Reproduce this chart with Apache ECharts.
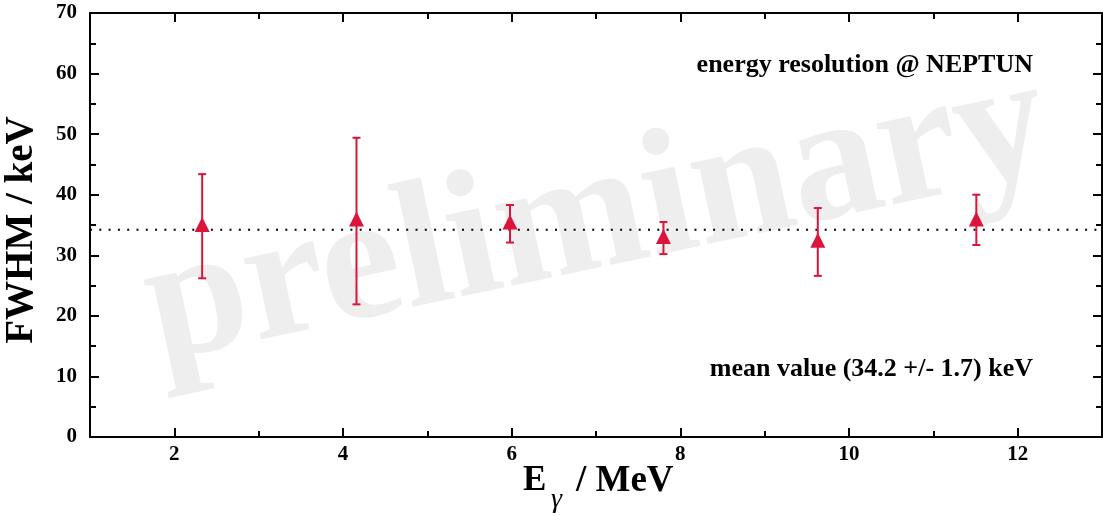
<!DOCTYPE html>
<html>
<head>
<meta charset="utf-8">
<script src="https://cdn.jsdelivr.net/npm/echarts@6/dist/echarts.min.js"></script>
<style>html,body{margin:0;padding:0;background:#fff}#c{width:1103px;height:516px}</style>
</head>
<body>
<div id="c"></div>
<script>
// ---- data ----
const energies = [2.33, 4.16, 5.98, 7.80, 9.63, 11.51];
const fwhm     = [35.1, 36.0, 35.5, 33.1, 32.5, 36.0];
const errLow   = [26.2, 21.9, 32.1, 30.2, 26.6, 31.7];
const errHigh  = [43.4, 49.4, 38.3, 35.5, 37.8, 40.0];
const meanValue = 34.2;
const xTickLabels = [2, 4, 6, 8, 10, 12];
const yTickLabels = [0, 10, 20, 30, 40, 50, 60, 70];

const RED = '#dc143c';
const SERIF = '"Liberation Serif","DejaVu Serif",serif';

const chart = echarts.init(document.getElementById('c'), null, {renderer: 'canvas'});

const pts = energies.map((e, i) => [e, fwhm[i]]);
const errs = energies.map((e, i) => [e, errLow[i], errHigh[i]]);

function xAxisDef(pos, labels) {
  return {
    type: 'value', position: pos, min: 1, max: 13, interval: 2,
    axisLine: {show: true, onZero: false, lineStyle: {color: '#000', width: 2}},
    axisTick: {show: true, inside: true, length: 6, lineStyle: {color: '#000', width: 2}},
    minorTick: {show: true, splitNumber: 2, length: 9, lineStyle: {color: '#000', width: 2}},
    splitLine: {show: false}, minorSplitLine: {show: false},
    axisLabel: {show: labels, customValues: xTickLabels, margin: 7, color: '#000',
      fontFamily: SERIF, fontWeight: 'bold', fontSize: 21}
  };
}
function yAxisDef(pos, labels) {
  return {
    type: 'value', position: pos, min: 0, max: 70, interval: 10,
    axisLine: {show: true, onZero: false, lineStyle: {color: '#000', width: 2}},
    axisTick: {show: true, inside: true, length: 9, lineStyle: {color: '#000', width: 2}},
    minorTick: {show: true, splitNumber: 2, length: 6, lineStyle: {color: '#000', width: 2}},
    splitLine: {show: false}, minorSplitLine: {show: false},
    axisLabel: {show: labels, customValues: yTickLabels, margin: 13, color: '#000',
      fontFamily: SERIF, fontWeight: 'bold', fontSize: 21}
  };
}

const option = {
  animation: false,
  backgroundColor: '#fff',
  grid: {left: 90, top: 13, right: 1, bottom: 79, containLabel: false},
  xAxis: [xAxisDef('bottom', true), xAxisDef('top', false)],
  yAxis: [yAxisDef('left', true), yAxisDef('right', false)],
  graphic: [
    {type: 'text', z: -10, x: 597, y: 220, rotation: 0.21,
      style: {text: 'preliminary', fill: '#eeeeee', font: 'bold 180px ' + SERIF,
        align: 'center', verticalAlign: 'middle'}},
    {type: 'text', z: 50, x: 1033, y: 65,
      style: {text: 'energy resolution @ NEPTUN', fill: '#000', font: 'bold 26px ' + SERIF,
        align: 'right', verticalAlign: 'middle'}},
    {type: 'text', z: 50, x: 1033, y: 369,
      style: {text: 'mean value (34.2 +/- 1.7) keV', fill: '#000', font: 'bold 26px ' + SERIF,
        align: 'right', verticalAlign: 'middle'}},
    {type: 'text', z: 50, x: 22, y: 230, rotation: Math.PI / 2,
      style: {text: 'FWHM / keV', fill: '#000', font: 'bold 39px ' + SERIF,
        align: 'center', verticalAlign: 'middle'}},
    {type: 'text', z: 50, x: 523, y: 481,
      style: {text: 'E', fill: '#000', font: 'bold 35px ' + SERIF, align: 'left', verticalAlign: 'middle'}},
    {type: 'text', z: 50, x: 551, y: 500,
      style: {text: 'γ', fill: '#000', font: 'italic 28px ' + SERIF, align: 'left', verticalAlign: 'middle'}},
    {type: 'text', z: 50, x: 576, y: 481,
      style: {text: '/ MeV', fill: '#000', font: 'bold 37px ' + SERIF, align: 'left', verticalAlign: 'middle'}}
  ],
  series: [
    {
      type: 'line', xAxisIndex: 0, yAxisIndex: 0, z: 3,
      data: [[1, meanValue], [13, meanValue]],
      symbol: 'none', silent: true,
      lineStyle: {color: '#000', width: 2, type: [2, 7.3]}
    },
    {
      type: 'custom', xAxisIndex: 0, yAxisIndex: 0, z: 4,
      data: errs,
      renderItem: function (params, api) {
        const x = api.value(0);
        const lo = api.coord([x, api.value(1)]);
        const hi = api.coord([x, api.value(2)]);
        const hw = 4;
        const st = {stroke: RED, lineWidth: 2};
        return {type: 'group', children: [
          {type: 'line', shape: {x1: lo[0], y1: lo[1], x2: hi[0], y2: hi[1]}, style: st},
          {type: 'line', shape: {x1: lo[0] - hw, y1: lo[1], x2: lo[0] + hw, y2: lo[1]}, style: st},
          {type: 'line', shape: {x1: hi[0] - hw, y1: hi[1], x2: hi[0] + hw, y2: hi[1]}, style: st}
        ]};
      }
    },
    {
      type: 'scatter', xAxisIndex: 0, yAxisIndex: 0, z: 5,
      data: pts, symbol: 'triangle', symbolSize: [15, 15],
      itemStyle: {color: RED, opacity: 1}
    }
  ]
};
chart.setOption(option);
</script>
</body>
</html>
